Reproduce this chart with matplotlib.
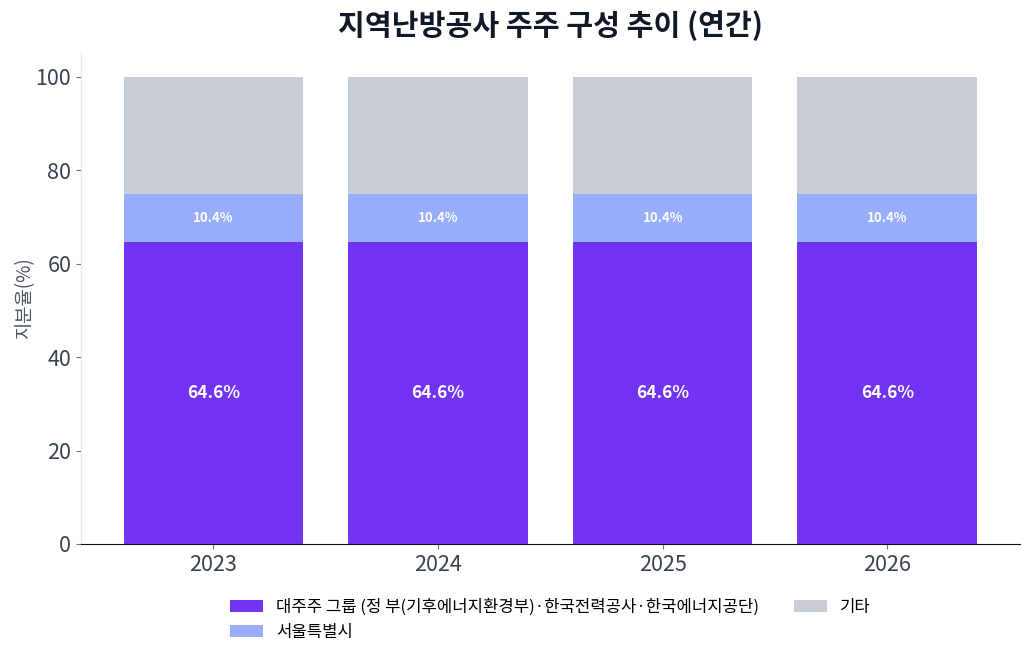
import numpy as np
import matplotlib.pyplot as plt

plt.rcParams['font.family'] = ['Noto Sans CJK KR', 'DejaVu Sans']

years = ['2023', '2024', '2025', '2026']
major = [64.6, 64.6, 64.6, 64.6]
seoul = [10.4, 10.4, 10.4, 10.4]
other = [25.0, 25.0, 25.0, 25.0]
names = ['대주주 그룹 (정 부(기후에너지환경부)·한국전력공사·한국에너지공단)', '서울특별시', '기타']
colors = ['#7234F2', '#99AEFB', '#C9CDD5']

fig = plt.figure(figsize=(10.30, 6.57), dpi=100)
ax = fig.add_axes([0.0786, 0.172, 0.9114, 0.749])

x = np.arange(len(years))
bottom = np.zeros(len(years))
for vals, name, c in zip([major, seoul, other], names, colors):
    ax.bar(x, vals, 0.8, bottom=bottom, color=c, label=name)
    bottom += np.array(vals)

for i in range(len(years)):
    ax.text(x[i], major[i] / 2, f'{major[i]:.1f}%', ha='center', va='center',
            color='white', fontsize=12.5, fontweight='bold')
    ax.text(x[i], major[i] + seoul[i] / 2, f'{seoul[i]:.1f}%', ha='center', va='center',
            color='white', fontsize=9.5, fontweight='bold')

ax.set_xticks(x)
ax.set_xticklabels(years)
ax.set_ylim(0, 105.3)
ax.set_yticks([0, 20, 40, 60, 80, 100])
ax.tick_params(axis='both', labelsize=15.5, colors='#6b7280', labelcolor='#374151')
ax.set_ylabel('지분율(%)', fontsize=13.5, color='#4b5563', labelpad=0)
ax.spines['top'].set_visible(False)
ax.spines['right'].set_visible(False)
ax.spines['left'].set_color('#e5e7eb')
ax.spines['bottom'].set_color('#111111')

ax.set_title('지역난방공사 주주 구성 추이 (연간)', fontsize=21, fontweight='bold',
             color='#111827', pad=12)

ax.legend(loc='upper center', bbox_to_anchor=(0.5, -0.08), ncol=2, frameon=False,
          fontsize=12, handlelength=2.0, columnspacing=2.05)

fig.savefig('out.png', dpi=100)
